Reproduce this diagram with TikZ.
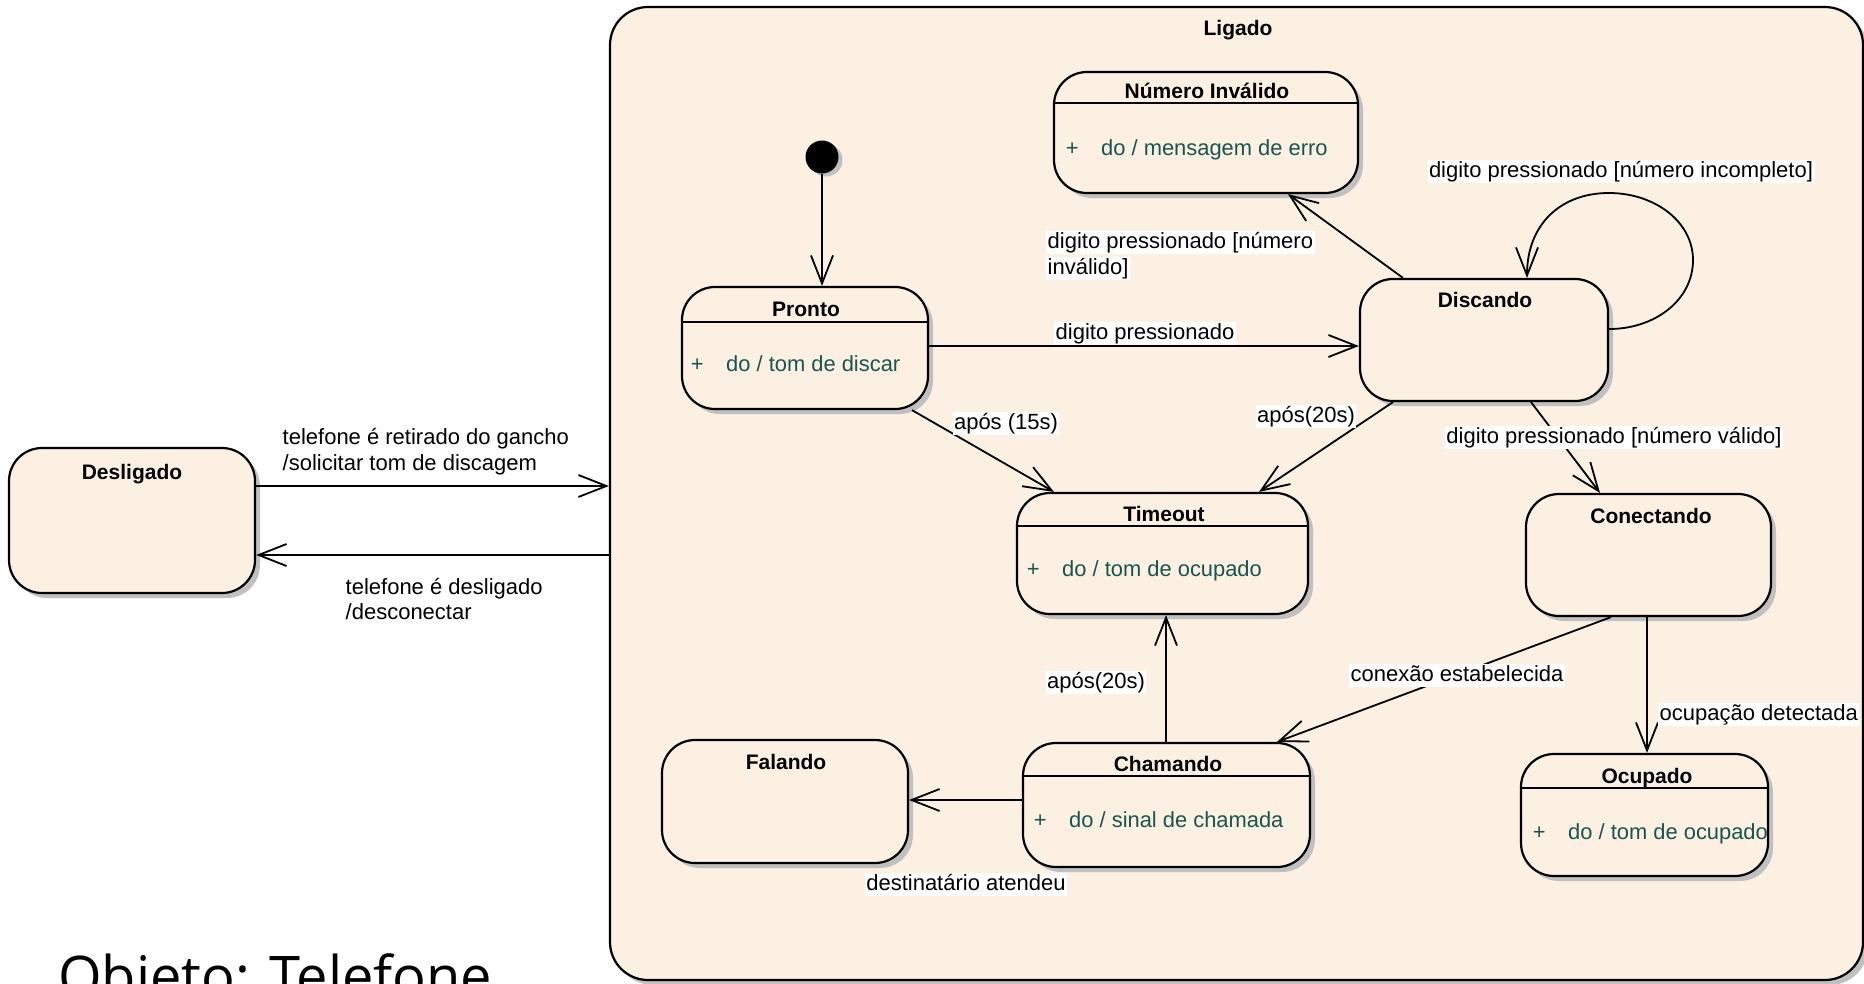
\documentclass[tikz,border=0pt]{standalone}
\usepackage{fontspec}
\setmainfont{Liberation Sans}
\newfontfamily\captionfont{Open Sans}
\usetikzlibrary{arrows.meta,shadows}

\definecolor{statefill}{RGB}{251,240,226}
\definecolor{shadowgray}{RGB}{192,192,192}
\definecolor{acttext}{RGB}{25,85,80}

\tikzset{
  statebox/.style={draw=black, line width=2.2pt, fill=statefill, rectangle,
    rounded corners=33pt, inner sep=0pt,
    drop shadow={shadow xshift=5pt, shadow yshift=-5pt, fill=shadowgray, opacity=1}},
  stname/.style={font=\fontsize{21}{25}\selectfont\bfseries, anchor=mid, inner sep=0pt, yshift=-4.5pt},
  acttxt/.style={font=\fontsize{21.9}{26}\selectfont, text=acttext, anchor=mid west, inner sep=0pt, yshift=-5pt},
  trans/.style={draw=black, line width=1.8pt, -{Straight Barb[length=28pt,width=22pt]}},
  tlabel/.style={font=\fontsize{22}{26}\selectfont, fill=white, inner sep=1.5pt,
    text height=16pt, text depth=4.5pt, anchor=mid, yshift=-4.5pt},
  divider/.style={draw=black, line width=2.2pt},
}

\begin{document}
\begin{tikzpicture}[x=1pt,y=-1pt]
\useasboundingbox (0,0) rectangle (1864,983);
\fill[white] (0,0) rectangle (1864,983);

% composite state
\node[statebox, rounded corners=38pt, minimum width=1253pt, minimum height=973pt] (lig) at (1236.5,493.5) {};
\node[stname] (ligT) at (1238,28) {Ligado};

% simple states
\node[statebox, minimum width=246pt, minimum height=145pt] (des) at (132,520.5) {};
\node[statebox, minimum width=246pt, minimum height=122pt] (pronto) at (805,348) {};
\node[statebox, minimum width=304pt, minimum height=121pt] (numinv) at (1206,132.5) {};
\node[statebox, minimum width=248pt, minimum height=122pt] (disc) at (1484,340) {};
\node[statebox, minimum width=291pt, minimum height=121pt] (timeout) at (1162.5,553.5) {};
\node[statebox, minimum width=245pt, minimum height=122pt] (conect) at (1648.5,555) {};
\node[statebox, minimum width=287pt, minimum height=124pt] (cham) at (1166.5,805) {};
\node[statebox, minimum width=246pt, minimum height=123pt] (fal) at (785,801.5) {};
\node[statebox, minimum width=247pt, minimum height=122pt] (ocup) at (1644.5,815) {};

% initial pseudo-state
\node[circle, fill=black, minimum size=33pt, inner sep=0pt,
  drop shadow={shadow xshift=4pt, shadow yshift=-3pt, fill=shadowgray, opacity=1}] (init) at (822,157) {};

% compartment dividers
\draw[divider] (pronto.west |- 0,322) -- (pronto.east |- 0,322);
\draw[divider] (numinv.west |- 0,103) -- (numinv.east |- 0,103);
\draw[divider] (timeout.west |- 0,526) -- (timeout.east |- 0,526);
\draw[divider] (cham.west |- 0,776) -- (cham.east |- 0,776);
\draw[divider] (ocup.west |- 0,788) -- (ocup.east |- 0,788);

% state names
\node[stname] (desT) at (132,472) {Desligado};
\node[stname] (prontoT) at (806,309) {Pronto};
\node[stname] (numinvT) at (1207,91) {Número Inválido};
\node[stname] (discT) at (1485,300) {Discando};
\node[stname] (timeoutT) at (1164,514) {Timeout};
\node[stname] (conectT) at (1651,516) {Conectando};
\node[stname] (chamT) at (1168,764) {Chamando};
\node[stname] (falT) at (786,762) {Falando};
\node[stname] (ocupT) at (1647,776) {Ocupado};

% do-activities
\node[acttxt] (prontoA) at (690.7,364) {+\hspace{22.5pt}do / tom de discar};
\node[acttxt] (numinvA) at (1065.7,148) {+\hspace{22.5pt}do / mensagem de erro};
\node[acttxt] (timeoutA) at (1026.7,569) {+\hspace{22.5pt}do / tom de ocupado};
\node[acttxt] (chamA) at (1033.7,820) {+\hspace{22.5pt}do / sinal de chamada};
\node[acttxt] (ocupA) at (1532.7,832) {+\hspace{22.5pt}do / tom de ocupado};

% transitions
\draw[trans] (init.south) -- (pronto.north -| init);
\draw[trans] (des.east |- 0,486) -- (lig.west |- 0,486);
\draw[trans] (lig.west |- 0,555) -- (des.east |- 0,555);
\draw[trans] (pronto.east |- 0,346) -- (disc.west |- 0,346);
\draw[trans] (pronto.south -| 912,0) -- (timeout.north -| 1054,0);
\draw[trans] (disc.south -| 1393,0) -- (timeout.north -| 1259,0);
\draw[trans] (disc.north -| 1403,0) -- (numinv.south -| 1288,0);
\draw[trans] (disc.south -| 1531,0) -- (conect.north -| 1600,0);
\coordinate (loopR) at (1693,260);
\coordinate (loopT) at (1609,193);
\draw[trans] (disc.east |- 0,329) .. controls (1655,329) and (1693,300) .. (loopR)
  .. controls (1693,222) and (1655,193) .. (loopT)
  .. controls (1560,193) and (1527,225) .. (disc.north -| 1527,0);
\draw[trans] (cham.north -| 1166,0) -- (timeout.south -| 1166,0);
\draw[trans] (conect.south -| 1611,0) -- (cham.north -| 1277,0);
\draw[trans] (conect.south -| 1647,0) -- (ocup.north -| 1647,0);
\draw[trans] (cham.west |- 0,800) -- (fal.east |- 0,800);

% transition labels
\node[tlabel, anchor=mid west] (l1a) at (281,437) {telefone é retirado do gancho};
\node[tlabel, anchor=mid west] (l1b) at (281,463) {/solicitar tom de discagem};
\node[tlabel, anchor=mid west] (l2a) at (344,587) {telefone é desligado};
\node[tlabel, anchor=mid west] (l2b) at (344,612) {/desconectar};
\node[tlabel, anchor=mid west] (l3a) at (1046,241) {digito pressionado [número};
\node[tlabel, anchor=mid west] (l3b) at (1046,267) {inválido]};
\node[tlabel] (l4) at (1145,332) {digito pressionado};
\node[tlabel] (l5) at (1006,422) {após (15s)};
\node[tlabel] (l6) at (1306,415) {após(20s)};
\node[tlabel] (l7) at (1621,170) {digito pressionado [número incompleto]};
\node[tlabel] (l8) at (1614,436) {digito pressionado [número válido]};
\node[tlabel] (l9) at (1096,681) {após(20s)};
\node[tlabel] (l10) at (1457,674) {conexão estabelecida};
\node[tlabel, anchor=mid west] (l11) at (1658,713) {ocupação detectada};
\node[tlabel] (l12) at (966,883) {destinatário atendeu};

% caption
\node[font=\captionfont\fontsize{56}{62}\selectfont, anchor=base west, inner sep=0pt] (obj) at (58,996) {Objeto: Telefone};
\end{tikzpicture}
\end{document}
